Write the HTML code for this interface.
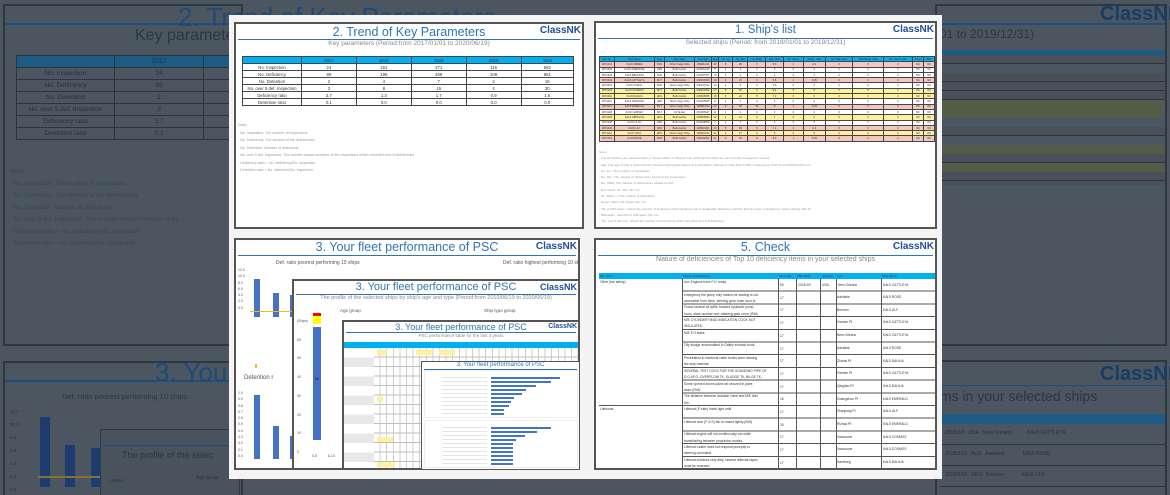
<!DOCTYPE html>
<html style="width:1170px;height:495px;overflow:hidden"><head><meta charset="utf-8"><style>
*{margin:0;padding:0;box-sizing:border-box}
body{width:1170px;height:495px;overflow:hidden;background:#4b5661;font-family:"Liberation Sans",sans-serif;position:relative}
#w{position:absolute;left:0;top:0;width:1170px;height:495px;overflow:hidden}
.a{position:absolute}
.pn{position:absolute;background:#fff;border:2px solid #555;overflow:hidden}
.ttl{position:absolute;left:0;right:0;text-align:center;color:#2e75b6;white-space:nowrap}
.nk{position:absolute;color:#1f4e9a;font-weight:bold;white-space:nowrap}
.ln{position:absolute;left:2px;right:2px;height:1px;background:#2e75b6}
.sub{position:absolute;left:0;right:0;text-align:center;color:#888;white-space:nowrap}
table{border-collapse:collapse;position:absolute}
td{border:1px solid #444;text-align:center;color:#333;white-space:nowrap;overflow:hidden}
.note{position:absolute;color:#999;white-space:nowrap}
.bar{position:absolute;background:#4472c4}
.dk td{border-color:#2a3540;color:#26313b}
</style></head><body><div id="w">

<!-- BACKGROUND LEFT -->
<div class="a" style="left:3px;top:4px;width:240px;height:342px;border:2px solid #2e3840"></div>
<div class="a" style="left:5px;top:23px;width:235px;height:2px;background:#1d4f7a"></div>
<div class="a" style="left:178px;top:2px;font-size:26px;color:#1d4a78;white-space:nowrap">2. Trend of Key Parameters</div>
<div class="a" style="left:135px;top:27px;font-size:16px;color:#2a3641;white-space:nowrap">Key parameters [Period</div>
<table class="dk" style="left:16px;top:55px;width:230px;font-size:6.5px">
<tr style="height:12px;background:#1d5b85"><td style="width:98px"></td><td style="width:89px">2017</td><td></td></tr>
<tr style="height:12px"><td>No. Inspection</td><td>24</td><td></td></tr>
<tr style="height:12px"><td>No. Deficiency</td><td>89</td><td></td></tr>
<tr style="height:12px"><td>No. Detention</td><td>2</td><td></td></tr>
<tr style="height:12px"><td>No. over 5 def. Inspection</td><td>3</td><td></td></tr>
<tr style="height:12px"><td>Deficiency ratio</td><td>3.7</td><td></td></tr>
<tr style="height:12px"><td>Detention ratio</td><td>0.1</td><td></td></tr>
</table>
<div class="a" style="left:10px;top:166px;font-size:6px;color:#3a4652;line-height:12px;white-space:nowrap">Note)<br>- No. Inspection: The number of inspections<br>- No. Deficiency: The number of the deficiencies<br>- No. Detention: Number of detentions<br>- No. over 5 def. Inspection: This number shows numbers of the<br>- Deficiency ratio = No. deficiency/No. Inspection<br>- Detention ratio = No. detention/No. Inspection</div>
<div class="a" style="left:3px;top:361px;width:240px;height:140px;border:2px solid #2e3840"></div>
<div class="a" style="left:5px;top:380px;width:235px;height:2px;background:#1d4f7a"></div>
<div class="a" style="left:155px;top:357px;font-size:26px;color:#1d4a78;white-space:nowrap">3. Your fl</div>
<div class="a" style="left:62px;top:392px;font-size:7.5px;color:#2a3641;white-space:nowrap">Def. ratio poorest performing 10 ships</div>
<div class="a" style="left:10px;top:405px;font-size:4.5px;color:#2a3641;line-height:13px">12.0<br>10.0<br>8.0<br>6.0<br>4.0<br>2.0<br>0.0</div>
<div class="a" style="left:40px;top:417px;width:10px;height:70px;background:#1d3d70"></div>
<div class="a" style="left:65px;top:445px;width:10px;height:42px;background:#1d3d70"></div>
<div class="a" style="left:91px;top:448px;width:10px;height:39px;background:#1d3d70"></div>
<div class="a" style="left:38px;top:476px;width:70px;height:2px;background:#8a7030"></div>
<div class="a" style="left:100px;top:429px;width:140px;height:70px;border:1px solid #2e3840;background:#48535d"></div>
<div class="a" style="left:100px;top:445px;width:140px;height:1px;background:#1d4f7a"></div>
<div class="a" style="left:122px;top:450px;font-size:9px;color:#2a3641;white-space:nowrap">The profile of the selec</div>
<div class="a" style="left:110px;top:478px;font-size:4.5px;color:#2a3641">(Ships)</div>
<div class="a" style="left:196px;top:475px;font-size:5px;color:#2a3641">Age group</div>

<!-- BACKGROUND RIGHT -->
<div class="a" style="left:935px;top:4px;width:232px;height:342px;border:2px solid #2e3840"></div>
<div class="a" style="left:935px;top:23px;width:230px;height:2px;background:#1d4f7a"></div>
<div class="a" style="left:1100px;top:3px;font-size:20px;font-weight:bold;color:#163d66">ClassNK</div>
<div class="a" style="left:940px;top:27px;font-size:12px;color:#2a3641;white-space:nowrap">01 to 2019/12/31)</div>
<div class="a" style="left:940px;top:50px;width:225px;height:5px;background:#1d5b85"></div>
<div class="a" style="left:940px;top:55px;width:225px;height:130px;background:repeating-linear-gradient(#4a4f5a 0,#4a4f5a 8px,#2a3540 8px,#2a3540 9px)"></div>
<div class="a" style="left:940px;top:64px;width:225px;height:9px;background:#4a5662"></div>
<div class="a" style="left:940px;top:100px;width:225px;height:18px;background:#525c48"></div>
<div class="a" style="left:940px;top:118px;width:225px;height:9px;background:#4a5662"></div>
<div class="a" style="left:940px;top:136px;width:225px;height:9px;background:#4a5662"></div>
<div class="a" style="left:940px;top:145px;width:225px;height:9px;background:#525c48"></div>
<div class="a" style="left:940px;top:163px;width:225px;height:9px;background:#525c48"></div>
<div class="a" style="left:935px;top:360px;width:232px;height:140px;border:2px solid #2e3840"></div>
<div class="a" style="left:1100px;top:363px;font-size:20px;font-weight:bold;color:#163d66">ClassNK</div>
<div class="a" style="left:935px;top:385px;width:230px;height:1px;background:#1d4f7a"></div>
<div class="a" style="left:940px;top:388px;font-size:14px;color:#2a3641;white-space:nowrap">ms in your selected ships</div>
<div class="a" style="left:940px;top:414px;width:225px;height:10px;background:#1d5b85"></div>
<div class="a" style="left:940px;top:424px;width:225px;height:75px;background:repeating-linear-gradient(#4b5661 0,#4b5661 20px,#2a3540 20px,#2a3540 21px)"></div>
<div class="a" style="left:945px;top:423px;font-size:5px;color:#26313b;line-height:21px;white-space:nowrap">2018/3/9 &nbsp; USA &nbsp; New Orleans &nbsp; &nbsp; &nbsp; &nbsp; &nbsp; KAIJI CATTLEYA<br>2018/3/16 &nbsp; AUS &nbsp; Adelaide &nbsp; &nbsp; &nbsp; &nbsp; &nbsp; &nbsp; KAIJI ROSE<br>2018/5/10 &nbsp; DEU &nbsp; Bremen &nbsp; &nbsp; &nbsp; &nbsp; &nbsp; &nbsp; KAIJI ULF</div>

<!-- WHITE FRAME -->
<div class="a" style="left:229px;top:15px;width:713px;height:464px;background:#f4f4f4"></div>

<!-- PANEL 2 -->
<div class="pn" style="left:234px;top:22px;width:350px;height:207px">
<div class="ttl" style="top:1px;font-size:12.5px">2. Trend of Key Parameters</div>
<div class="nk" style="right:1px;top:1px;font-size:10px">ClassNK</div>
<div class="ln" style="top:15px"></div>
<div class="sub" style="top:16px;font-size:6.5px">Key parameters (Period:from 2017/01/01 to 2020/06/19)</div>
<table style="left:6px;top:32px;width:332px;font-size:4.3px">
<tr style="height:7px;background:#00b0f0"><td style="width:59px"></td><td>2017</td><td>2018</td><td>2019</td><td>2020</td><td>Total</td></tr>
<tr style="height:7px"><td>No. Inspection</td><td>24</td><td>151</td><td>271</td><td>116</td><td>562</td></tr>
<tr style="height:7px"><td>No. Deficiency</td><td>89</td><td>195</td><td>468</td><td>109</td><td>861</td></tr>
<tr style="height:7px"><td>No. Detention</td><td>2</td><td>4</td><td>7</td><td>2</td><td>15</td></tr>
<tr style="height:7px"><td>No. over 5 def. Inspection</td><td>3</td><td>8</td><td>15</td><td>4</td><td>30</td></tr>
<tr style="height:7px"><td>Deficiency ratio</td><td>3.7</td><td>1.3</td><td>1.7</td><td>0.9</td><td>1.5</td></tr>
<tr style="height:7px"><td>Detention ratio</td><td>0.1</td><td>0.0</td><td>0.0</td><td>0.0</td><td>0.0</td></tr>
</table>
<div class="note" style="left:2px;top:98px;font-size:3.6px;line-height:7.5px">Note)<br>- No. Inspection: The number of inspections<br>- No. Deficiency: The number of the deficiencies<br>- No. Detention: Number of detentions<br>- No. over 5 def. Inspection: This number shows numbers of the inspections which recorded over 5 deficiencies<br>- Deficiency ratio = No. deficiency/No. Inspection<br>- Detention ratio = No. detention/No. Inspection</div>
</div>

<!-- PANEL 1 -->
<div class="pn" style="left:594px;top:21px;width:343px;height:208px">
<div class="ttl" style="top:1px;font-size:11.5px">1. Ship's list</div>
<div class="nk" style="right:1px;top:1px;font-size:10px">ClassNK</div>
<div class="ln" style="top:15px"></div>
<div class="sub" style="top:16px;font-size:6.5px">Selected ships (Period: from 2018/01/01 to 2019/12/31)</div>
<table style="left:3px;top:33px;width:336px;font-size:2.6px">
<tr style="height:5.3px;background:#00b0f0"><td style="width:15px">IMO No.</td><td style="width:40px">Ship Name</td><td style="width:10px">Flag</td><td style="width:30px">Ship Type</td><td style="width:17px">Keel laid</td><td style="width:7px">Age</td><td>No. Ins</td><td>No. Def</td><td>No.(ISM)</td><td>Def. ratio</td><td>No. Deten</td><td>Deten. ratio</td><td>No. ISM deten</td><td>ISM Deten. ratio</td><td>No. Over 5 def.</td><td>Class</td><td>SMC</td></tr>
<tr style="height:5.3px;background:#f4c6c2"><td>9074101</td><td>KAIJI AMBER</td><td>PAN</td><td>Other Cargo Ship</td><td>1999/11/11</td><td>20</td><td>5</td><td>28</td><td>0</td><td>5.6</td><td>1</td><td>0.2</td><td>0</td><td>0</td><td>3</td><td>NK</td><td>NK</td></tr>
<tr style="height:5.3px"><td>9074109</td><td>KAIJI ANEMONE</td><td>LBR</td><td>Bulk Carrier</td><td>2015/10/10</td><td>5</td><td>1</td><td>3</td><td>0</td><td>3</td><td>0</td><td>0</td><td>0</td><td>0</td><td>0</td><td>NK</td><td>NK</td></tr>
<tr style="height:5.3px"><td>9074106</td><td>KAIJI BEGONIA</td><td>SGP</td><td>Bulk Carrier</td><td>2010/07/07</td><td>10</td><td>1</td><td>2</td><td>0</td><td>2</td><td>0</td><td>0</td><td>0</td><td>0</td><td>0</td><td>NK</td><td>NK</td></tr>
<tr style="height:5.3px;background:#f4c6c2"><td>9074102</td><td>KAIJI CATTLEYA</td><td>MLT</td><td>Bulk Carrier</td><td>2001/03/03</td><td>19</td><td>4</td><td>23</td><td>4</td><td>5.8</td><td>1</td><td>0.25</td><td>0</td><td>0</td><td>3</td><td>NK</td><td>NK</td></tr>
<tr style="height:5.3px"><td>9074103</td><td>KAIJI CORAL</td><td>SGP</td><td>Other Cargo Ship</td><td>2001/01/14</td><td>19</td><td>2</td><td>5</td><td>0</td><td>2.5</td><td>0</td><td>0</td><td>0</td><td>0</td><td>0</td><td>NK</td><td>NK</td></tr>
<tr style="height:5.3px;background:#fdf19d"><td>9074103</td><td>KAIJI COSMOS</td><td>MLT</td><td>Bulk Carrier</td><td>2004/04/04</td><td>17</td><td>5</td><td>32</td><td>3</td><td>6.4</td><td>0</td><td>0</td><td>0</td><td>0</td><td>4</td><td>NK</td><td>NK</td></tr>
<tr style="height:5.3px;background:#fdf19d"><td>9074104</td><td>KAIJI DAHLIA</td><td>HKG</td><td>Bulk Carrier</td><td>2006/05/05</td><td>15</td><td>3</td><td>22</td><td>5</td><td>7.3</td><td>0</td><td>0</td><td>0</td><td>0</td><td>3</td><td>NK</td><td>NK</td></tr>
<tr style="height:5.3px"><td>9074110</td><td>KAIJI DIAMOND</td><td>LBR</td><td>Other Cargo Ship</td><td>2013/05/05</td><td>8</td><td>1</td><td>2</td><td>0</td><td>2</td><td>0</td><td>0</td><td>0</td><td>0</td><td>0</td><td>NK</td><td>NK</td></tr>
<tr style="height:5.3px;background:#f4c6c2"><td>9074111</td><td>KAIJI EMERALD</td><td>MLT</td><td>Other Cargo Ship</td><td>1998/12/12</td><td>22</td><td>3</td><td>24</td><td>14</td><td>8</td><td>1</td><td>0.33</td><td>0</td><td>0</td><td>3</td><td>NK</td><td>NK</td></tr>
<tr style="height:5.3px"><td>9074108</td><td>KAIJI GARNET</td><td>MLT</td><td>Oil Tanker</td><td>2010/09/27</td><td>11</td><td>1</td><td>2</td><td>0</td><td>2</td><td>0</td><td>0</td><td>0</td><td>0</td><td>0</td><td>NK</td><td>NK</td></tr>
<tr style="height:5.3px;background:#fdf19d"><td>9074105</td><td>KAIJI HIBISCUS</td><td>HKG</td><td>Bulk Carrier</td><td>2008/06/06</td><td>12</td><td>2</td><td>14</td><td>0</td><td>7</td><td>0</td><td>0</td><td>0</td><td>0</td><td>2</td><td>NK</td><td>NK</td></tr>
<tr style="height:5.3px"><td>9074108</td><td>KAIJI LILAC</td><td>LBR</td><td>Bulk Carrier</td><td>2014/08/08</td><td>6</td><td>1</td><td>2</td><td>0</td><td>2</td><td>0</td><td>0</td><td>0</td><td>0</td><td>0</td><td>NK</td><td>NK</td></tr>
<tr style="height:5.3px;background:#f4c6c2"><td>9074100</td><td>KAIJI LILY</td><td>PAN</td><td>Bulk Carrier</td><td>1998/01/01</td><td>23</td><td>5</td><td>36</td><td>5</td><td>7.2</td><td>2</td><td>0.4</td><td>0</td><td>0</td><td>4</td><td>NK</td><td>NK</td></tr>
<tr style="height:5.3px;background:#fdf19d"><td>9074112</td><td>KAIJI OPAL</td><td>HKG</td><td>Other Cargo Ship</td><td>1999/01/13</td><td>22</td><td>3</td><td>27</td><td>0</td><td>9</td><td>0</td><td>0</td><td>0</td><td>0</td><td>3</td><td>NK</td><td>NK</td></tr>
<tr style="height:5.3px;background:#f4c6c2"><td>9074101</td><td>KAIJI ROSE</td><td>PAN</td><td>Bulk Carrier</td><td>2000/02/02</td><td>21</td><td>3</td><td>25</td><td>8</td><td>8.3</td><td>1</td><td>0.33</td><td>0</td><td>0</td><td>2</td><td>NK</td><td>NK</td></tr>
</table>
<div class="note" style="left:3px;top:126px;font-size:3.1px;line-height:6.3px">Note)<br>- The list shows your selected ships in "Select ships" of "Report" tab, although the ships are not currently managed or owned.<br>- Age: The age of ship is determined by the keel-laying date based on a calculation method of "Ship Risk Profile" employed in TOKYO and PARIS MOU etc...<br>- No. Ins.: The number of inspections<br>- No. Def.: The number of deficiencies found on the inspections<br>- No. (ISM): The number of deficiencies related to ISM<br>- Def. ration: No. Def./ No. Ins.<br>- No. Deten. = The number of detentions<br>- Deten. ration: No. Deten./No. Ins.<br>- "No of ISM deten." shows the number of inspection which detained due to detainable deficiency with the first two letter of deficiency codes starting with 15<br>- ISM deten. ratio=No of ISM deten./No. Ins.<br>- "No. over 5 def. Ins." shows the number of inspections which recorded over 5 deficiencies<br>- Red color shows "detained"<br>- Yellow color shows over 5 def. ratio</div>
</div>

<!-- PANEL 5 -->
<div class="pn" style="left:594px;top:238px;width:343px;height:232px">
<div class="ttl" style="top:0px;font-size:12.5px">5. Check</div>
<div class="nk" style="right:1px;top:1px;font-size:10px">ClassNK</div>
<div class="ln" style="top:15px"></div>
<div class="sub" style="top:16px;font-size:7px">Nature of deficiencies of Top 10 deficiency items in your selected ships</div>
<div class="a" style="left:3px;top:33px;width:336px;height:6px;background:#00b0f0;font-size:3px;white-space:nowrap;line-height:6px;color:#333">&nbsp;Def. item<span class="a" style="left:84px">Nature of Deficiency</span><span class="a" style="left:180px">Act.Code</span><span class="a" style="left:198px">PSC Date</span><span class="a" style="left:223px">Country</span><span class="a" style="left:238px">Port</span><span class="a" style="left:283px">Ship Name</span></div>
<div class="a" style="left:86px;top:39px;width:253px;height:191px;background:repeating-linear-gradient(#fff 0,#fff 11.7px,#555 11.7px,#555 12.7px)"></div>
<div class="a" style="left:3px;top:165px;width:336px;height:1px;background:#555"></div>
<div class="a" style="left:86px;top:39px;width:1px;height:191px;background:#555"></div>
<div class="a" style="left:182px;top:39px;width:1px;height:191px;background:#555"></div>
<div class="a" style="left:200px;top:39px;width:1px;height:191px;background:#555"></div>
<div class="a" style="left:224px;top:39px;width:1px;height:191px;background:#555"></div>
<div class="a" style="left:240px;top:39px;width:1px;height:191px;background:#555"></div>
<div class="a" style="left:285px;top:39px;width:1px;height:191px;background:#555"></div>
<div class="a" style="left:4px;top:40px;font-size:3.3px;color:#333">Other (fire safety)</div>
<div class="a" style="left:4px;top:167px;font-size:3.3px;color:#333">Lifeboats</div>
<div class="a" style="left:88px;top:39px;font-size:3.3px;color:#333;line-height:6.35px;white-space:nowrap">Aux Engines have F.O. leaks<br><br>emergency fire pump only means for starting is not<br>accessible from deck, steering gear room door to<br>Found several oil spills: forward hydraulic pump<br>room, stare number one, steering gear room.(ISM)<br>M/E CYLINDER HEAD INDICATION COCK NOT<br>INSULATED<br>M/E F.O leaks<br><br>Oily sludge accumulated in Galley exhaust trunk.<br><br>Penetration in electrical cable trunks were missing<br>fire stop material.<br>SEVERAL TEST COCK FOR THE SOUNDING PIPE OF<br>D.O.&amp;F.O. OVERFLOW TK, SLUDGE TK, BILGE TK,<br>Some opened drums paint not secured in paint<br>store.(ISM)<br>The distance between isolation valve and M/E less<br>5m.<br>Lifeboat (P-side) hatch light unlit.<br><br>Lifeboat door (P &amp; S) fail to closed tightly.(ISM)<br><br>Lifeboat engine will not continuously run while<br>transitioning between propulsion modes.<br>Lifeboat rudder does not respond promptly to<br>steering command.<br>Lifeboat windows very dirty, several reflector tapes<br>must be renewed.</div>
<div class="a" style="left:184px;top:39px;font-size:3.3px;color:#333;line-height:12.7px;white-space:nowrap">60<span class="a" style="left:18px">2018/1/9</span><span class="a" style="left:42px">USA</span><span class="a" style="left:58px">New Orleans</span><span class="a" style="left:103px">KAIJI CATTLEYA</span><br>17<br>17<br>17<br>17<br>17<br>17<br>17<br>17<br>16<br>17<br>30<br>17<br>17<br>17</div>
<div class="a" style="left:241px;top:51px;font-size:3.3px;color:#333;line-height:12.7px;white-space:nowrap">Adelaide<br>Bremen<br>Xiamen Pt<br>New Orleans<br>Adelaide<br>Zhuhai Pt<br>Xiamen Pt<br>Qingdao Pt<br>Guangzhou Pt<br>Zhanjiang Pt<br>Rizhao Pt<br>Vancouver<br>Vancouver<br>Hamburg</div>
<div class="a" style="left:287px;top:51px;font-size:3.3px;color:#333;line-height:12.7px;white-space:nowrap">KAIJI ROSE<br>KAIJI ULF<br>KAIJI CATTLEYA<br>KAIJI CATTLEYA<br>KAIJI ROSE<br>KAIJI DAHLIA<br>KAIJI CATTLEYA<br>KAIJI DAHLIA<br>KAIJI EMERALD<br>KAIJI ULF<br>KAIJI EMERALD<br>KAIJI COSMOS<br>KAIJI COSMOS<br>KAIJI DAHLIA</div>
</div>

<!-- PANEL 3 stack -->
<div class="pn" style="left:234px;top:238px;width:346px;height:232px">
<div class="ttl" style="top:0px;font-size:12.5px">3. Your fleet performance of PSC</div>
<div class="nk" style="right:1px;top:1px;font-size:10px">ClassNK</div>
<div class="ln" style="top:15px"></div>
<div class="a" style="left:40px;top:20px;font-size:5px;color:#555;white-space:nowrap">Def. ratio poorest performing 10 ships</div>
<div class="a" style="left:267px;top:20px;font-size:5px;color:#555;white-space:nowrap">Def. ratio highest performing 10 ships</div>
<div class="a" style="left:2px;top:27px;font-size:3.5px;color:#555;line-height:6.3px">12.0<br>10.0<br>8.0<br>6.0<br>4.0<br>2.0<br>0.0</div>
<div class="bar" style="left:18px;top:39px;width:6px;height:38px"></div>
<div class="bar" style="left:37px;top:53px;width:6px;height:24px"></div>
<div class="bar" style="left:54px;top:55px;width:6px;height:22px"></div>
<div class="a" style="left:14px;top:71px;width:50px;height:1px;background:#fcb814"></div>
<div class="a" style="left:19px;top:124px;width:2px;height:4px;background:#fcb814"></div>
<div class="a" style="left:2px;top:150px;font-size:3.5px;color:#555;line-height:6.3px">1.0<br>0.9<br>0.8<br>0.7<br>0.6<br>0.5<br>0.4<br>0.3<br>0.2<br>0.1<br>0.0</div>
<div class="bar" style="left:18px;top:155px;width:6px;height:64px"></div>
<div class="bar" style="left:37px;top:186px;width:6px;height:33px"></div>
<div class="bar" style="left:54px;top:196px;width:6px;height:23px"></div>
<div class="a" style="left:8px;top:135px;font-size:6px;color:#555">Detention r</div>
</div>
<div class="pn" style="left:292px;top:279px;width:288px;height:191px">
<div class="ttl" style="top:0px;font-size:11px">3. Your fleet performance of PSC</div>
<div class="nk" style="right:1px;top:1px;font-size:9px">ClassNK</div>
<div class="ln" style="top:13px"></div>
<div class="sub" style="top:14px;font-size:5.5px">The profile of the selected ships by ship's age and type (Period:from 2019/06/19 to 2020/06/19)</div>
<div class="a" style="left:46px;top:27px;font-size:4.5px;color:#555">Age group</div>
<div class="a" style="left:190px;top:27px;font-size:4.5px;color:#555">Ship type group</div>
<div class="a" style="left:3px;top:31px;font-size:3.5px;color:#555;line-height:18.7px">(Ships)<br>60<br>50<br>40<br>30<br>20<br>10<br>0</div>
<div class="bar" style="left:19px;top:46px;width:8px;height:113px;font-size:3.5px;text-align:center;padding-top:50px;color:#222">56</div>
<div class="a" style="left:19px;top:35px;width:8px;height:8px;background:#ffff00"></div>
<div class="a" style="left:19px;top:32px;width:8px;height:3px;background:#f00"></div>
<div class="bar" style="left:50px;top:83px;width:8px;height:76px"></div>
<div class="a" style="left:50px;top:72px;width:8px;height:11px;background:#ffff00"></div>
<div class="a" style="left:50px;top:62px;width:8px;height:10px;background:#f00"></div>
<div class="a" style="left:18px;top:173px;font-size:3.5px;color:#555">0-5 &nbsp; &nbsp; &nbsp; &nbsp; &nbsp; 6-10</div>
</div>
<div class="pn" style="left:342px;top:320px;width:238px;height:150px">
<div class="ttl" style="top:0px;font-size:9px">3. Your fleet performance of PSC</div>
<div class="nk" style="right:1px;top:1px;font-size:7px">ClassNK</div>
<div class="ln" style="top:10px"></div>
<div class="sub" style="top:11px;font-size:4.5px">PSC performance table for the last 3 years</div>
<div class="a" style="left:0;top:20px;width:236px;height:6px;background:#00b0f0"></div>
<div class="a" style="left:0;top:26px;width:236px;height:124px;background:repeating-linear-gradient(#fff 0,#fff 8.5px,#bbb 8.5px,#bbb 9.5px),#fff"></div>
<div class="a" style="left:0;top:26px;width:30px;height:124px;background:repeating-linear-gradient(#fff 0,#fff 9.5px,#e8e8e8 9.5px,#e8e8e8 19px)"></div>
<div class="a" style="left:30px;top:26px;width:206px;height:124px;background:repeating-linear-gradient(90deg,transparent 0,transparent 5.6px,#ccc 5.6px,#ccc 6.6px)"></div>
<div class="a" style="left:33px;top:28px;width:10px;height:5px;background:#fdf19d"></div>
<div class="a" style="left:72px;top:28px;width:16px;height:5px;background:#fdf19d"></div>
<div class="a" style="left:95px;top:28px;width:16px;height:5px;background:#fdf19d"></div>
<div class="a" style="left:33px;top:75px;width:6px;height:5px;background:#fdf19d"></div>
<div class="a" style="left:80px;top:75px;width:12px;height:5px;background:#fdf19d"></div>
<div class="a" style="left:33px;top:115px;width:16px;height:5px;background:#fdf19d"></div>
<div class="a" style="left:80px;top:115px;width:18px;height:5px;background:#fdf19d"></div>
<div class="a" style="left:33px;top:140px;width:18px;height:5px;background:#fdf19d"></div>
</div>
<div class="pn" style="left:421px;top:361px;width:159px;height:109px;border-width:1px">
<div class="ttl" style="top:0px;font-size:6px">3. Your fleet performance of PSC</div>
<div class="ln" style="top:7px"></div>
<div class="a" style="left:2px;top:8px;width:154px;height:48px;border:1px solid #eee"></div>
<div class="a" style="left:2px;top:58px;width:154px;height:48px;border:1px solid #eee"></div>
<div class="bar" style="left:69px;top:15px;width:69px;height:1.8px"></div>
<div class="bar" style="left:69px;top:19px;width:60px;height:1.8px"></div>
<div class="bar" style="left:69px;top:23px;width:45px;height:1.8px"></div>
<div class="bar" style="left:69px;top:27px;width:35px;height:1.8px"></div>
<div class="bar" style="left:69px;top:31px;width:31px;height:1.8px"></div>
<div class="bar" style="left:69px;top:35px;width:23px;height:1.8px"></div>
<div class="bar" style="left:69px;top:39px;width:20px;height:1.8px"></div>
<div class="bar" style="left:69px;top:43px;width:18px;height:1.8px"></div>
<div class="bar" style="left:69px;top:47px;width:13px;height:1.8px"></div>
<div class="bar" style="left:69px;top:51px;width:13px;height:1.8px"></div>
<div class="bar" style="left:69px;top:65px;width:60px;height:1.8px"></div>
<div class="bar" style="left:69px;top:69px;width:46px;height:1.8px"></div>
<div class="bar" style="left:69px;top:73px;width:34px;height:1.8px"></div>
<div class="bar" style="left:69px;top:77px;width:25px;height:1.8px"></div>
<div class="bar" style="left:69px;top:81px;width:22px;height:1.8px"></div>
<div class="bar" style="left:69px;top:85px;width:22px;height:1.8px"></div>
<div class="bar" style="left:69px;top:89px;width:22px;height:1.8px"></div>
<div class="bar" style="left:69px;top:93px;width:22px;height:1.8px"></div>
<div class="bar" style="left:69px;top:97px;width:22px;height:1.8px"></div>
<div class="bar" style="left:69px;top:101px;width:22px;height:1.8px"></div>
<div class="a" style="left:20px;top:14px;width:45px;height:40px;background:repeating-linear-gradient(#fff 0,#fff 1.5px,#ccc 1.5px,#ccc 2.2px,#fff 2.2px,#fff 4px)"></div>
<div class="a" style="left:20px;top:64px;width:45px;height:40px;background:repeating-linear-gradient(#fff 0,#fff 1.5px,#ccc 1.5px,#ccc 2.2px,#fff 2.2px,#fff 4px)"></div>
</div>
</div></body></html>
